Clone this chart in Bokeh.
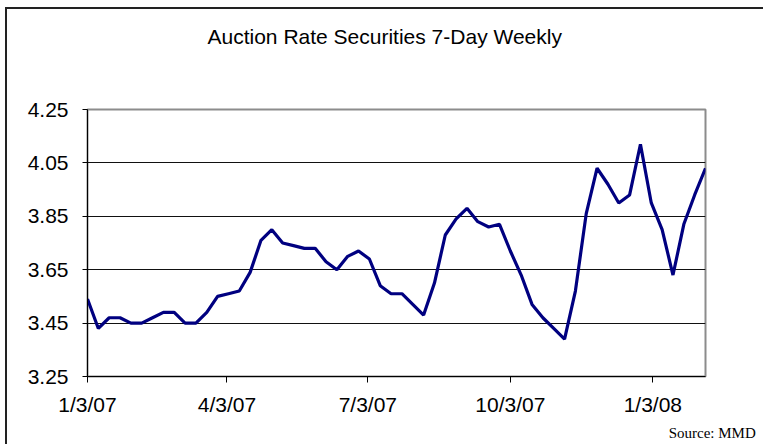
import pandas as pd
from bokeh.plotting import figure
from bokeh.models import (Range1d, FixedTicker, CustomJSTickFormatter, Title, ColumnDataSource)
from bokeh.embed import file_html
from bokeh.resources import INLINE

# ---- data ----
start_date = "2007-01-03"
rates = [3.54, 3.43, 3.47, 3.47, 3.45, 3.45, 3.47, 3.49, 3.49, 3.45,
         3.45, 3.49, 3.55, 3.56, 3.57, 3.64, 3.76, 3.80, 3.75, 3.74,
         3.73, 3.73, 3.68, 3.65, 3.70, 3.72, 3.69, 3.59, 3.56, 3.56,
         3.52, 3.48, 3.60, 3.78, 3.84, 3.88, 3.83, 3.81, 3.82, 3.72,
         3.63, 3.52, 3.47, 3.43, 3.39, 3.57, 3.86, 4.03, 3.97, 3.90,
         3.93, 4.12, 3.90, 3.80, 3.63, 3.82, 3.93, 4.03]
dates = list(pd.date_range(start_date, periods=len(rates), freq="7D"))

x_tick_dates = ["2007-01-03", "2007-04-03", "2007-07-03", "2007-10-03", "2008-01-03"]
x_tick_labels = ["1/3/07", "4/3/07", "7/3/07", "10/3/07", "1/3/08"]
y_ticks = [3.25, 3.45, 3.65, 3.85, 4.05, 4.25]
y_grid = [3.45, 3.65, 3.85, 4.05]
y_min, y_max = 3.25, 4.25

title_text = "Auction Rate Securities 7-Day Weekly"
source_text = "Source:  MMD"

# ---- figure ----
def ms(d):
    return pd.Timestamp(d).value / 1e6

tick_ms = [ms(d) for d in x_tick_dates]

W, H = 763, 444
p = figure(width=W, height=H, x_axis_type="datetime",
           output_backend="svg", toolbar_location=None,
           x_range=Range1d(dates[0], dates[-1]),
           y_range=Range1d(y_min, y_max),
           min_border_left=87, min_border_right=W - 705,
           min_border_top=109, min_border_bottom=H - 377)
p.border_fill_color = None
p.background_fill_color = "white"
p.styles = {"box-shadow": "inset 5px 7px 0 0 #ffffff, inset 7px 9px 0 0 #222222",
            "background-color": "#ffffff"}

src = ColumnDataSource(dict(x=dates, y=rates))
p.line("x", "y", source=src, line_color="#000080", line_width=3.2)

# title: spacer (closest to frame) then real title
spacer = Title(text=" ", text_font_size="1px", standoff=59)
p.add_layout(spacer, "above")
p.add_layout(Title(text=title_text, align="left", offset=120, standoff=0,
                   text_font="Liberation Sans", text_font_size="21px",
                   text_font_style="normal", text_color="#000000"), "above")

# source note
p.add_layout(Title(text=source_text, align="right", offset=-54, standoff=8,
                   text_font="Liberation Serif", text_font_size="15px",
                   text_font_style="normal", text_color="#000000"), "below")

# frame
p.outline_line_color = "#8c8c8c"
p.outline_line_width = 2

# axes
for ax in (p.xaxis[0], p.yaxis[0]):
    ax.axis_line_color = "#000000"
    ax.axis_line_width = 1
    ax.major_tick_line_color = "#000000"
    ax.minor_tick_line_color = None
    ax.major_tick_in = 0
    ax.major_label_text_font = "Liberation Sans"
    ax.major_label_text_font_size = "21px"
    ax.major_label_text_color = "#000000"

p.yaxis[0].ticker = FixedTicker(ticks=y_ticks)
p.yaxis[0].major_tick_out = 5
p.yaxis[0].major_label_standoff = 14

p.xaxis[0].ticker = FixedTicker(ticks=tick_ms)
p.xaxis[0].major_tick_out = 6
p.xaxis[0].major_label_standoff = 10
p.xaxis[0].formatter = CustomJSTickFormatter(
    args=dict(tick_vals=tick_ms, tick_text=x_tick_labels),
    code="""
    let best = -1, bd = Infinity;
    for (let i = 0; i < tick_vals.length; i++) {
        const d = Math.abs(tick_vals[i] - tick);
        if (d < bd) { bd = d; best = i; }
    }
    return bd < 86400000 ? tick_text[best] : "";
    """)

p.xgrid.visible = False
p.ygrid.ticker = FixedTicker(ticks=y_grid)
p.ygrid.grid_line_color = "#111111"
p.ygrid.grid_line_width = 1

open("out.html", "w").write(file_html(p, INLINE))
